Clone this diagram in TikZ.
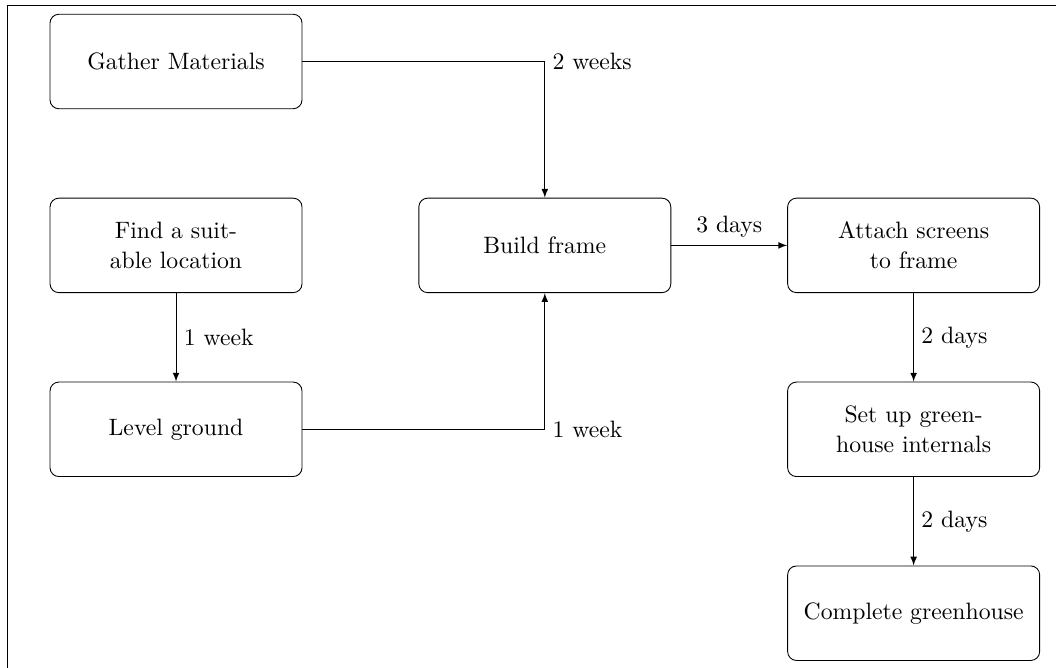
\documentclass[tikz,border=0pt]{standalone}
\usetikzlibrary{shapes,arrows,positioning,calc}

\begin{document}
\begin{tikzpicture}[
    node distance=1.405cm and 1.84cm,
    every node/.style={font=\fontsize{10.7}{13.5}\selectfont},
    task/.style={rectangle, draw, rounded corners, text width=3.7cm, align=center, minimum width=4cm, minimum height=1.5cm},
    arrow/.style={->,>=latex}
]
\useasboundingbox (-2.794,0.976) rectangle (13.968,-9.627);

% page frame (cut off at right and bottom)
\draw (-2.683,-9.627) -- (-2.683,0.889) -- (13.968,0.889);

\node[task] (gather) {Gather Materials};
\node[task, below=of gather] (site) {Find a suitable location};
\node[task, below=of site] (level) {Level ground};
\node[task, right=of site] (frame) {Build frame};
\node[task, right=of frame] (screens) {Attach screens to frame};
\node[task, below=of screens] (internals) {Set up greenhouse internals};
\node[task, below=of internals] (done) {Complete greenhouse};

\draw[arrow] (gather) -| node[right] {2 weeks} (frame);
\draw[arrow] (site) -- node[right] {1 week} (level);
\draw[arrow] (level) -| node[right] {1 week} (frame);
\draw[arrow] (frame) -- node[above] {3 days} (screens);
\draw[arrow] (screens) -- node[right] {2 days} (internals);
\draw[arrow] (internals) -- node[right] {2 days} (done);

\end{tikzpicture}
\end{document}
